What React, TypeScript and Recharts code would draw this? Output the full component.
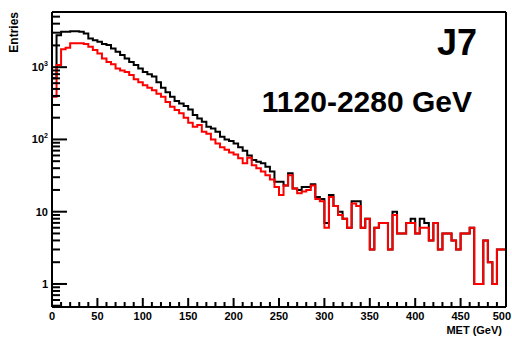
import { LineChart, Line, XAxis, YAxis } from 'recharts'

// bin edges in GeV (100 bins of 5 GeV, 0-500)
const binEdges: number[] = Array.from({ length: 101 }, (_, i) => i * 5)

// black: all events
const allEntries: number[] = [
  700, 2770, 3100, 3100, 3150, 3150, 3100, 2930, 2500, 2360,
  2240, 2100, 2030, 1820, 1630, 1470, 1320, 1180, 1070, 960,
  860, 800, 740, 620, 520, 450, 390, 340, 315, 290,
  260, 218, 195, 176, 150, 142, 128, 109, 100, 95,
  88, 78, 70, 60, 52, 49, 47, 42, 36, 26,
  26, 23, 34, 21, 20, 22, 22, 24, 16, 15,
  7, 17, 12, 10, 8, 6, 14, 14, 6, 8,
  3, 6, 7, 7, 3, 10, 5, 5, 7, 8,
  5, 8, 7, 4, 7, 3, 5, 5, 4, 3,
  5, 5, 6, 1, 1, 4, 2, 1, 3, 3,
]

// red: selected events
const selEntries: number[] = [
  390, 1070, 1770, 1850, 2140, 2140, 2140, 2100, 1910, 1730,
  1550, 1320, 1180, 1100, 960, 900, 860, 780, 680, 620,
  560, 520, 480, 430, 390, 330, 283, 255, 230, 200,
  170, 150, 158, 128, 120, 100, 88, 78, 72, 66,
  62, 55, 47, 56, 44, 40, 36, 32, 28, 22,
  17, 23, 32, 21, 18, 19, 20, 23, 15, 14,
  6, 16, 12, 9, 8, 6, 13, 12, 6, 8,
  3, 6, 7, 7, 3, 9, 5, 5, 7, 7,
  5, 6, 6, 4, 7, 3, 5, 5, 4, 3,
  5, 5, 6, 1, 1, 4, 2, 1, 3, 3,
]

const xTicks: number[] = [
  0, 10, 20, 30, 40, 50, 60, 70, 80, 90, 100, 110, 120, 130, 140, 150, 160, 170, 180, 190,
  200, 210, 220, 230, 240, 250, 260, 270, 280, 290, 300, 310, 320, 330, 340, 350, 360, 370,
  380, 390, 400, 410, 420, 430, 440, 450, 460, 470, 480, 490, 500,
]
const xMajor: number[] = [0, 50, 100, 150, 200, 250, 300, 350, 400, 450, 500]

const yTicks: number[] = [
  0.5, 0.6, 0.7, 0.8, 0.9, 1, 2, 3, 4, 5, 6, 7, 8, 9, 10, 20, 30, 40, 50, 60, 70, 80, 90,
  100, 200, 300, 400, 500, 600, 700, 800, 900, 1000, 2000, 3000, 4000, 5000,
]
const yMajor: number[] = [1, 10, 100, 1000]
const yLabels: Record<number, [string, string]> = {
  1: ['1', ''],
  10: ['10', ''],
  100: ['10', '2'],
  1000: ['10', '3'],
}

const data = binEdges.map((x, i) => ({
  x,
  all: allEntries[Math.min(i, allEntries.length - 1)],
  sel: selEntries[Math.min(i, selEntries.length - 1)],
}))

const FONT = '"Liberation Sans", Arial, Helvetica, sans-serif'

function XTick(props: any) {
  const { x, y, payload } = props
  const major = xMajor.includes(payload.value)
  // last label hugs the right edge so it is not clipped
  const last = payload.value === 500
  return (
    <g>
      <line x1={x} x2={x} y1={y} y2={y - (major ? 9 : 5)} stroke="#000" strokeWidth={2} />
      {major && (
        <text
          x={last ? 511 : x}
          y={y + 13}
          textAnchor={last ? 'end' : 'middle'}
          fontSize={11}
          fontWeight="bold"
          fontFamily={FONT}
          fill="#000"
        >
          {payload.value}
        </text>
      )}
    </g>
  )
}

function YTick(props: any) {
  const { x, y, payload } = props
  const major = yMajor.includes(payload.value)
  const lab = yLabels[payload.value]
  return (
    <g>
      <line x1={x} x2={x + (major ? 15 : 8)} y1={y} y2={y} stroke="#000" strokeWidth={2} />
      {major && lab && (
        <text x={x - 4} y={y + 4} textAnchor="end" fontSize={11} fontWeight="bold" fontFamily={FONT} fill="#000">
          {lab[0]}
          {lab[1] && (
            <tspan dy={-5} fontSize={7}>
              {lab[1]}
            </tspan>
          )}
        </text>
      )}
    </g>
  )
}

export default function App() {
  return (
    <div style={{ position: 'absolute', left: 0, top: 0, width: 512, height: 337, background: '#fff' }}>
      <LineChart width={512} height={337} data={data} margin={{ top: 11, right: 5, bottom: 0, left: 0 }}>
        <XAxis
          dataKey="x"
          type="number"
          domain={[0, 500]}
          allowDataOverflow
          ticks={xTicks}
          interval={0}
          height={30}
          tickSize={0}
          tickMargin={0}
          tickLine={false}
          tick={<XTick />}
          axisLine={{ stroke: '#000', strokeWidth: 2 }}
        />
        <XAxis
          xAxisId="top"
          orientation="top"
          dataKey="x"
          type="number"
          domain={[0, 500]}
          height={1}
          tick={false}
          tickLine={false}
          axisLine={{ stroke: '#000', strokeWidth: 2 }}
        />
        <YAxis
          scale="log"
          domain={[0.48, 5800]}
          allowDataOverflow
          ticks={yTicks}
          interval={0}
          width={52}
          tickSize={0}
          tickMargin={0}
          tickLine={false}
          tick={<YTick />}
          axisLine={{ stroke: '#000', strokeWidth: 2 }}
        />
        <YAxis
          yAxisId="right"
          orientation="right"
          width={1}
          tick={false}
          tickLine={false}
          axisLine={{ stroke: '#000', strokeWidth: 2 }}
        />
        <Line
          type="stepAfter"
          dataKey="all"
          stroke="#000000"
          strokeWidth={2}
          dot={false}
          isAnimationActive={false}
        />
        <Line
          type="stepAfter"
          dataKey="sel"
          stroke="#ff0000"
          strokeWidth={2}
          dot={false}
          isAnimationActive={false}
        />
      </LineChart>
      <svg width={512} height={337} style={{ position: 'absolute', left: 0, top: 0, pointerEvents: 'none' }}>
        <text x={477} y={55} textAnchor="end" fontSize={36} fontWeight="bold" fontFamily={FONT} fill="#000">
          J7
        </text>
        <text x={472} y={112} textAnchor="end" fontSize={30} fontWeight="bold" fontFamily={FONT} fill="#000">
          1120-2280 GeV
        </text>
        <text
          transform="translate(18,12) rotate(-90)"
          textAnchor="end"
          fontSize={12}
          fontWeight="bold"
          fontFamily={FONT}
          fill="#000"
        >
          Entries
        </text>
        <text x={502} y={334} textAnchor="end" fontSize={11} fontWeight="bold" fontFamily={FONT} fill="#000">
          MET (GeV)
        </text>
      </svg>
    </div>
  )
}
